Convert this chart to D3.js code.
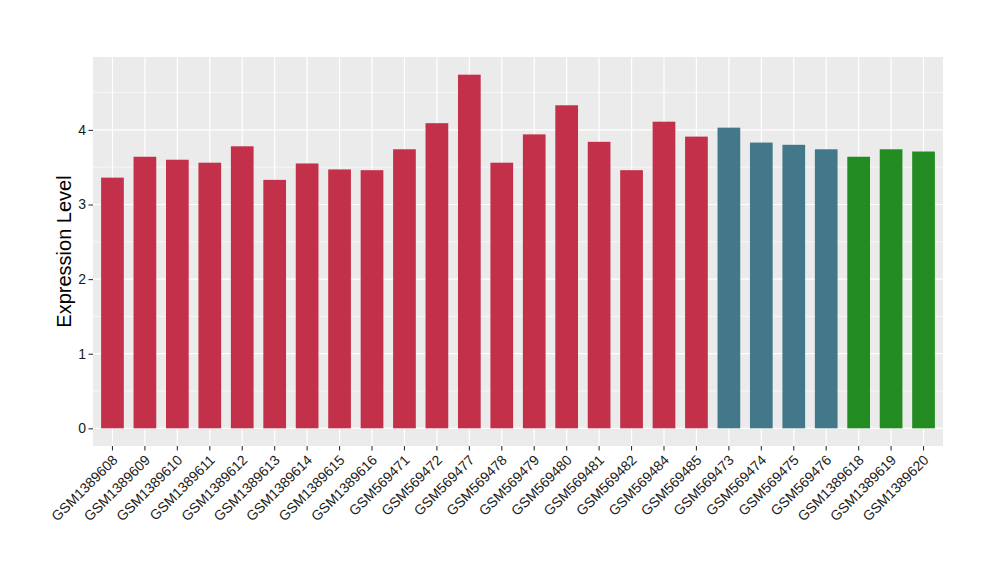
<!DOCTYPE html>
<html><head><meta charset="utf-8">
<script src="https://cdn.jsdelivr.net/npm/d3@7"></script>
<style>body{margin:0;background:#fff}svg{display:block}text{font-family:"Liberation Sans",Arial,Helvetica,sans-serif}</style>
</head><body><svg id="c" width="1000" height="580"></svg>
<script>
const categories = ["GSM1389608","GSM1389609","GSM1389610","GSM1389611","GSM1389612","GSM1389613","GSM1389614","GSM1389615","GSM1389616","GSM569471","GSM569472","GSM569477","GSM569478","GSM569479","GSM569480","GSM569481","GSM569482","GSM569484","GSM569485","GSM569473","GSM569474","GSM569475","GSM569476","GSM1389618","GSM1389619","GSM1389620"];
const values = [3.36,3.64,3.60,3.56,3.78,3.33,3.55,3.47,3.46,3.74,4.09,4.74,3.56,3.94,4.33,3.84,3.46,4.11,3.91,4.03,3.83,3.80,3.74,3.64,3.74,3.71];
const groups = ["A","A","A","A","A","A","A","A","A","A","A","A","A","A","A","A","A","A","A","B","B","B","B","C","C","C"];
const groupNames = ["A","B","C"];
const groupColors = ["#C3304A","#42788A","#228B22"];
const yTicks = [0,1,2,3,4];
const yLabel = "Expression Level";

const svg = d3.select("#c");
const L = 93, R = 943, T = 57, B = 446;
const maxV = d3.max(values);
const y = d3.scaleLinear().domain([-0.05*maxV, 1.05*maxV]).range([B, T]);
const x = d3.scaleBand().domain(categories).range([L, R]).paddingOuter(0.1).paddingInner(0);
const color = d3.scaleOrdinal().domain(groupNames).range(groupColors);

svg.append("rect").attr("x", L).attr("y", T).attr("width", R-L).attr("height", B-T).attr("fill", "#EBEBEB");
// minor grid
const minor = d3.range(0.5, 5, 1).filter(v => y(v) > T);
svg.append("g").selectAll("line").data(minor).join("line")
  .attr("x1", L).attr("x2", R).attr("y1", d=>y(d)).attr("y2", d=>y(d))
  .attr("stroke", "#fff").attr("stroke-width", 0.6);
svg.append("g").selectAll("line").data(yTicks).join("line")
  .attr("x1", L).attr("x2", R).attr("y1", d=>y(d)).attr("y2", d=>y(d))
  .attr("stroke", "#fff").attr("stroke-width", 1.2);
svg.append("g").selectAll("line").data(categories).join("line")
  .attr("y1", T).attr("y2", B).attr("x1", d=>x(d)+x.bandwidth()/2).attr("x2", d=>x(d)+x.bandwidth()/2)
  .attr("stroke", "#fff").attr("stroke-width", 1.2);

const bw = x.bandwidth()*0.7;
svg.append("g").selectAll("rect").data(categories).join("rect")
  .attr("x", d=>x(d)+x.bandwidth()/2-bw/2).attr("width", bw)
  .attr("y", (d,i)=>y(values[i])).attr("height", (d,i)=>y(0)-y(values[i]))
  .attr("fill", (d,i)=>color(groups[i]));

// y axis
const ya = svg.append("g").attr("transform", `translate(${L},0)`)
  .call(d3.axisLeft(y).tickValues(yTicks).tickSize(4.5).tickPadding(2.5).tickFormat(d3.format("d")));
ya.select(".domain").remove();
ya.selectAll("line").attr("stroke", "#333").attr("stroke-width", 1.1);
ya.selectAll("text").attr("fill", "#1A1A1A").attr("font-size", 14).style("font-family", "Liberation Sans, Arial, sans-serif");

// x axis
const xa = svg.append("g").attr("transform", `translate(0,${B})`)
  .call(d3.axisBottom(x).tickSize(4.5).tickPadding(3));
xa.select(".domain").remove();
xa.selectAll("line").attr("stroke", "#333").attr("stroke-width", 1.1);
xa.selectAll("text").attr("fill", "#1A1A1A").attr("font-size", 14)
  .style("font-family", "Liberation Sans, Arial, sans-serif")
  .attr("text-anchor", "end").attr("dy", null).attr("y", 0)
  .attr("transform", "translate(6,15) rotate(-45)");

svg.append("text").attr("transform", `translate(71,${(T+B)/2}) rotate(-90)`)
  .attr("text-anchor", "middle").attr("font-size", 20).attr("fill", "#000").text(yLabel);
</script></body></html>
